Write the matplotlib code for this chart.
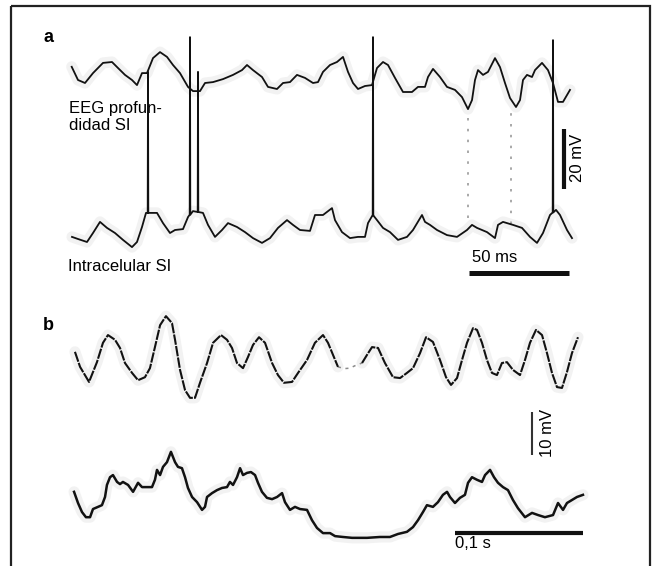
import numpy as np
import matplotlib
matplotlib.use("Agg")
import matplotlib.pyplot as plt
from matplotlib.patches import Rectangle

plt.rcParams['font.family'] = ['Liberation Sans', 'DejaVu Sans']

# ---------------- Panel a data (time in ms, voltage in mV) ----------------
a_eeg_t = [0.85, 4, 7.5, 11.5, 16.5, 21, 24, 27.5, 31, 33.5, 36, 38.5, 41.5, 45, 48.5,
           51.5, 55, 59, 61.5, 65, 67.5, 71.5, 76.5, 81.5, 86, 88.5, 91.5, 96, 99,
           103.5, 106.5, 110, 113.5, 117.5, 121.5, 124, 126.5, 130, 133.5, 136.5, 139,
           141.5, 144, 147.5, 151, 153.5, 156.5, 159, 162.5, 166.5, 171, 174, 177.5,
           179, 181.5, 185, 188.5, 192.5, 196, 199, 201, 202.5, 204, 206.5, 209,
           212.5, 215, 217.5, 220, 223, 225, 226.5, 228.5, 231, 232.5, 236, 239,
           241.5, 244, 246.5, 250]
a_eeg_v = [4.4, 0, -1, 2.3, 5.7, 6, 4, 1.7, 0, -1.7, 2.3, 2.3, 7.3, 9.3, 7.7,
           5, 2.3, -2.3, -3.7, -3.7, -1, -0.7, 0.3, 1.7, 3.3, 5, 3.3, 1, -2.3,
           -3, -1, -0.7, 1.7, 0.7, -1, -0.7, 2.7, 5, 6, 7.7, 2.7,
           -1, -3, -2, -1.7, 4, 6, 5, 0.7, -4, -4, -2.3, -2.3,
           1, 3.7, 1, -2.3, -3.3, -5.7, -9.7, -6.7, 0, 3.3, 1.7, 2.7,
           7.3, 4.3, -1, -6, -9, -6.7, 0, 1.7, 1, 3.3, 5.7, 3.3,
           -1, -7.3, -7.3, -3.3]

a_int_t = [1, 4, 8.5, 11.5, 15, 18.5, 22.5, 26.5, 31, 33.5, 36, 38, 43.5, 46.5, 50,
           52.5, 56.5, 59, 61.5, 66.5, 69, 72.5, 76, 79, 83.5, 87.5, 91.5, 96, 100,
           104, 108.5, 111.5, 115, 120, 122.5, 126.5, 131, 132.5, 136, 140, 144,
           147.5, 149, 151.5, 153.5, 156.5, 160, 164, 168.5, 171.5, 176, 177.5, 180,
           183.5, 188.5, 193.5, 198.5, 201, 203.5, 208.5, 212.5, 214, 216.5, 221.5,
           226, 230, 233.5, 236.5, 240, 243, 245, 248.5, 251]
a_int_v = [-2.3, -3, -4, -1, 2.7, 0.7, -1, -3.3, -5.7, -4, 1, 5.7, 5.7, 2.3, -1,
           0, 0.3, 4.3, 6.3, 5.7, 1.7, -2.3, 0, 2.3, 1, -0.7, -2.7, -4.3, -2.7,
           0.7, 3.3, 1.7, 0, -0.3, 5, 5, 7.3, 3.3, -0.7, -2.7, -2.3,
           -2.3, 2.3, 5, 3.3, 0.7, -0.7, -3.3, -2.3, 0, 5, 2.7, 1.7,
           0, -1.7, -2.3, 0, 1.7, 0.7, -0.7, -2.7, 1.7, 2.7, 1.7,
           0.7, -2.3, -4.3, -1, 5, 6.7, 5, 0, -2.7]

a_spike_t = [39, 60, 64, 151.5, 241.5]
a_spike_peak = [52.7, 64.3, 52.7, 64.3, 63.3]

# fast EEG transients rendered faintly (dotted) in the print
a_faint_t = [199, 220.5]
a_faint_lo = [-46, -48]
a_faint_hi = [-10, -10]

# ---------------- Panel b data (time in ms, voltage in mV) ----------------
b_eeg_t1 = [2.3, 6.3, 13.3, 19.5, 24.2, 28.1, 33.6, 37.5, 41.4, 46.9, 51.6, 57.0, 60.9,
            64.8, 68.8, 73.4, 78.1, 80.5, 84.4, 88.3, 92.2, 96.1, 100, 105.5, 110.2,
            116.4, 121.1, 125, 128.9, 133.6, 137.5, 141.4, 146.1, 150.8, 156.3, 160.9,
            165.6, 171.9, 176.6, 183.6, 189.8, 196.1, 200, 203.9, 207.8]
b_eeg_v1 = [1.9, -1.6, -5.1, -0.5, 4.0, 5.8, 4.7, 2.8, -0.7, -3.0, -4.7, -4.0, -1.9,
            3.0, 8.1, 10.2, 8.6, 4.7, -2.3, -7.0, -8.8, -8.8, -5.3, -0.7, 4.0,
            5.8, 4.7, 2.8, -0.7, -1.9, 0.7, 3.5, 5.3, 4.0, -0.7, -3.5,
            -5.3, -5.1, -3.0, 0, 4.0, 5.8, 4.0, 1.2, -1.6]
b_eeg_gap_t = [207.8, 213, 217, 222, 226.6]
b_eeg_gap_v = [-1.6, -2.0, -1.9, -1.2, -0.7]
b_eeg_t2 = [226.6, 230.5, 234.4, 239.1, 244.5, 250.8, 256.3, 261.7, 266.4, 271.9, 276.6,
            282, 287.5, 292.2, 296.1, 300.8, 304.7, 308.6, 313.3, 316.4, 320.3, 324.2,
            328.1, 332, 335.9, 339.8, 344.5, 350, 353.9, 357.8, 362.5, 367.2, 371.1,
            375, 378.9, 382.8, 386.7, 390.6, 395.3]
b_eeg_v2 = [-0.7, 1.2, 3.0, 2.8, -0.7, -4.0, -4.2, -3.0, -1.9, 1.6, 5.3,
            4.2, 0, -4.0, -5.8, -4.2, 0, 4.0, 7.4, 7.0, 4.0, 0,
            -3.0, -3.5, -0.7, -0.5, -2.3, -3.5, 0, 4.0, 7.0, 5.8, 1.6,
            -3.0, -6.3, -6.5, -2.8, 1.6, 5.3]

b_int_t = [1.6, 4.7, 7.8, 10.9, 14.1, 16.4, 20.3, 23.4, 25.8, 27.3, 29.7, 32.0, 35.2,
           37.5, 39.8, 43.8, 47.7, 51.6, 54.7, 58.6, 62.5, 64.8, 66.4, 68.8, 71.1,
           74.2, 77.3, 80.5, 82.8, 85.9, 88.3, 90.6, 93.8, 97.7, 101.6, 103.9, 105.5,
           109.4, 113.3, 117.2, 121.1, 123.4, 125.8, 128.9, 131.3, 133.6, 136.7,
           139.8, 143.0, 145.3, 148.4, 152.3, 156.3, 160.2, 164.1, 166.4, 170.3,
           174.2, 178.1, 183.6, 187.5, 191.4, 196.1, 201.6, 205.5, 211.7, 218.8,
           230.5, 240.6, 248.4, 254.7, 261.7, 266.4, 270.3, 274.2, 277.3, 282.0,
           285.9, 289.8, 293.0, 295.3, 299.2, 303.1, 307.0, 309.4, 312.5, 316.4,
           320.3, 322.7, 326.6, 329.7, 332.8, 336.7, 340.6, 344.5, 348.4, 353.9,
           359.4, 364.1, 369.5, 375.8, 379.7, 383.6, 386.7, 390.6, 394.5, 399.2]
b_int_v = [1.9, -0.7, -2.8, -4.0, -4.0, -2.1, -1.6, -1.2, 0.7, 3.5, 5.3, 5.8, 4.2,
           3.7, 4.2, 3.5, 1.9, 4.0, 3.0, 3.0, 3.0, 4.7, 7.0, 5.8, 7.7,
           8.8, 11.2, 8.8, 7.7, 7.4, 5.3, 2.8, 0.7, -0.5, -2.3, -1.6, 0.7,
           1.6, 2.3, 2.8, 3.0, 4.2, 3.5, 5.3, 7.4, 5.8, 6.3,
           6.5, 5.8, 4.0, 1.9, 0.5, 0.2, 0.7, 1.6, -0.5, -2.3,
           -1.6, -2.1, -2.3, -4.7, -6.5, -7.7, -7.7, -8.4, -8.6, -8.8,
           -8.8, -8.6, -8.6, -7.9, -7.4, -6.3, -4.7, -2.8, -1.2, -1.6,
           -0.5, 1.2, 1.9, 0.7, -0.7, 0.5, 1.2, 4.0, 5.3, 4.7,
           4.2, 5.8, 7.0, 5.3, 4.0, 3.0, 2.3, 0, -1.9, -4.0,
           -3.0, -3.5, -4.0, -3.5, -0.7, -2.3, -0.7, 0, 0.7, 1.2]

# scale bars
a_scale_ms = 50
a_scale_mv = 20
b_scale_ms = 100
b_scale_mv = 10

# ---------------- figure ----------------
W, H = 653, 566
fig = plt.figure(figsize=(W / 100, H / 100), dpi=100)


def px_axes(x0, x1, y0, y1, t0, sx, v0, sy):
    """axes whose data units map linearly onto a pixel box of the figure"""
    ax = fig.add_axes([x0 / W, 1 - y1 / H, (x1 - x0) / W, (y1 - y0) / H])
    ax.set_xlim((x0 - t0) / sx, (x1 - t0) / sx)
    ax.set_ylim((v0 - y1) / sy, (v0 - y0) / sy)
    ax.axis('off')
    return ax


HALO = '#f2f2f2'
INK = '#111111'

# ---- panel a ----
axa = px_axes(55, 600, 25, 295, 70, 2.0, 230, 3.0)
eeg_off = (230 - 80) / 3.0
ea_t = np.array(a_eeg_t)
ea_v = np.array(a_eeg_v) + eeg_off
axa.plot(ea_t, ea_v, color=HALO, lw=8, solid_capstyle='round', zorder=1)
axa.plot(ea_t, ea_v, color=INK, lw=1.3, zorder=3)

# intracellular trace with spikes inserted
it = list(a_int_t)
iv = list(a_int_v)
for st, sp in zip(a_spike_t, a_spike_peak):
    base = float(np.interp(st, a_int_t, a_int_v))
    k = int(np.searchsorted(it, st))
    it[k:k] = [st - 0.15, st, st + 0.15]
    iv[k:k] = [base, sp, base]
it = np.array(it)
iv = np.array(iv)
axa.plot(a_int_t, a_int_v, color=HALO, lw=8, solid_capstyle='round', zorder=1)
axa.plot(it, iv, color=INK, lw=1.3, zorder=3)

for ft, lo, hi in zip(a_faint_t, a_faint_lo, a_faint_hi):
    axa.plot([ft, ft], [lo + eeg_off, hi + eeg_off], color='#9a9a9a', lw=1.2,
             ls=(0, (1.5, 5)), zorder=2)

# scale bars a
axa.plot([247, 247], [13.7, 13.7 + a_scale_mv], color=INK, lw=3, solid_capstyle='butt')
axa.plot([199.5, 199.5 + a_scale_ms], [-14.3, -14.3], color=INK, lw=3.6,
         solid_capstyle='butt')

# ---- panel b ----
axb = px_axes(55, 600, 290, 560, 72, 1.28, 500, 4.3)
eeg_off_b = (500 - 360) / 4.3
for tt, vv in [(b_eeg_t1, b_eeg_v1), (b_eeg_t2, b_eeg_v2)]:
    tt = np.array(tt)
    vv = np.array(vv) + eeg_off_b
    axb.plot(tt, vv, color=HALO, lw=8, solid_capstyle='round', zorder=1)
    axb.plot(tt, vv, color=INK, lw=1.5, ls=(0, (5, 0.6)), zorder=3)
axb.plot(b_eeg_gap_t, np.array(b_eeg_gap_v) + eeg_off_b, color='#8a8a8a', lw=1.1,
         ls=(0, (2, 3)), zorder=2)

axb.plot(b_int_t, b_int_v, color=HALO, lw=8, solid_capstyle='round', zorder=1)
axb.plot(b_int_t, b_int_v, color=INK, lw=1.8, zorder=3)

axb.plot([359.4, 359.4], [10.47, 10.47 + b_scale_mv], color='#333333', lw=1.5,
         solid_capstyle='butt')
axb.plot([299.2, 299.2 + b_scale_ms], [-7.67, -7.67], color=INK, lw=3,
         solid_capstyle='butt')

# ---- overlay for frame and text (pixel units) ----
ov = fig.add_axes([0, 0, 1, 1], zorder=-1)
ov.set_xlim(0, W)
ov.set_ylim(H, 0)
ov.axis('off')
ov.add_patch(Rectangle((11, 6), 639, 600, fill=False, lw=1.6, edgecolor='#222222'))

fs = 12
ov.text(48, 38, 'a', fontsize=13, fontweight='bold', ha='center', va='center')
ov.text(48, 325, 'b', fontsize=13, fontweight='bold', ha='center', va='center')
ov.text(69, 101, 'EEG profun-\ndidad SI', fontsize=fs, ha='left', va='top',
        linespacing=1.15)
ov.text(68, 274, 'Intracelular SI', fontsize=fs, ha='left', va='bottom')
ov.text(472, 265, '50 ms', fontsize=fs, ha='left', va='bottom')
ov.text(577, 158, '20 mV', fontsize=fs, ha='center', va='center', rotation=90)
ov.text(548, 433, '10 mV', fontsize=fs, ha='center', va='center', rotation=90)
ov.text(455, 551, '0,1 s', fontsize=fs, ha='left', va='bottom')

fig.savefig('out.png', dpi=100)
